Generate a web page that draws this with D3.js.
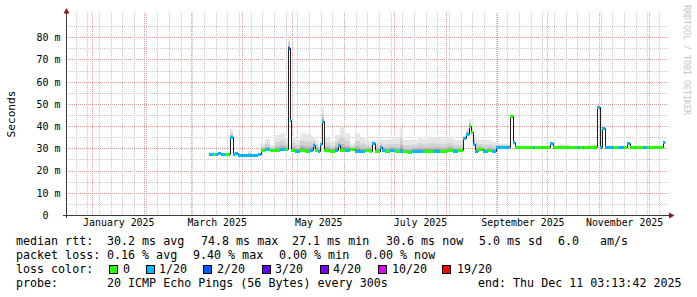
<!DOCTYPE html>
<html><head><meta charset="utf-8">
<script src="https://cdn.jsdelivr.net/npm/d3@7"></script>
<style>html,body{margin:0;padding:0;background:#fff;} svg{display:block}</style>
</head><body><svg id="c" width="697" height="297"></svg>
<script>
// ---- data ----
const times = [
"2025-03-12 02","2025-03-14 08","2025-03-16 03","2025-03-17 08","2025-03-19 03","2025-03-21 13","2025-03-23 22",
"2025-03-24 20","2025-03-26 01","2025-03-27 20","2025-03-29 01","2025-04-04 01","2025-04-06 03","2025-04-10 08",
"2025-04-12 03","2025-04-14 13","2025-04-17 13","2025-04-20 13","2025-04-23 13","2025-04-26 13","2025-04-28 01",
"2025-04-29 13","2025-04-30 10","2025-05-02 13","2025-05-05 13","2025-05-08 13","2025-05-11 13","2025-05-13 08",
"2025-05-14 13","2025-05-16 08","2025-05-17 13","2025-05-18 13","2025-05-20 03","2025-05-23 13","2025-05-26 13",
"2025-05-28 08","2025-05-29 13","2025-06-01 13","2025-06-04 13","2025-06-07 13","2025-06-10 13","2025-06-13 13",
"2025-06-16 13","2025-06-17 18","2025-06-19 13","2025-06-22 13","2025-06-23 18","2025-06-25 13","2025-06-28 13",
"2025-07-01 13","2025-07-04 13","2025-07-06 08","2025-07-09 08","2025-07-11 18","2025-07-15 08","2025-07-18 08",
"2025-07-21 08","2025-07-24 08","2025-07-28 13","2025-08-01 18","2025-08-05 08","2025-08-08 08","2025-08-11 12",
"2025-08-13 10","2025-08-14 22","2025-08-16 03","2025-08-17 08","2025-08-18 20","2025-08-20 08","2025-08-23 08",
"2025-08-26 08","2025-08-28 18","2025-08-31 10","2025-09-08 13","2025-09-10 04","2025-09-11 06","2025-09-22 04",
"2025-09-23 06","2025-10-02 20","2025-10-04 01","2025-10-07 08","2025-10-14 13","2025-10-19 12","2025-10-20 13",
"2025-10-22 04","2025-10-23 03","2025-10-25 08","2025-10-30 22","2025-11-01 13","2025-11-02 13","2025-11-04 13",
"2025-11-09 22","2025-11-12 08","2025-11-15 22","2025-11-17 22","2025-11-19 06","2025-11-27 08","2025-11-29 18",
"2025-12-09 04"];
const dataEnd = "2025-12-10 20";
const median = [
27.3,27.3,27.3,27.7,27.3,27.3,27.3,
35.1,27.5,28.1,27.0,27.0,27.0,27.6,
29.3,29.5,29.3,29.2,29.5,29.6,75.0,
42.7,29.3,29.0,29.4,28.8,29.2,31.5,
29.4,29.0,32.0,42.2,29.3,29.0,29.4,
31.5,29.4,29.2,29.5,29.0,28.7,29.2,
29.0,32.2,29.0,30.6,29.3,29.0,29.3,
28.8,29.0,28.6,28.5,29.0,28.8,29.0,
28.8,29.0,28.8,29.2,29.0,29.2,34.5,
36.5,40.0,37.2,31.8,29.0,29.5,28.8,
29.3,28.8,30.7,44.6,33.0,30.7,30.7,
30.7,32.2,30.7,30.7,30.7,30.7,30.7,
30.7,30.7,30.7,48.7,30.7,39.3,30.7,
30.7,30.7,30.7,32.2,30.7,30.7,30.7,
32.7];
const loss = [
1,0,1,1,1,0,1,
1,1,1,1,1,1,1,
0,1,0,0,1,0,2,
1,0,1,0,0,1,1,
0,1,1,1,0,0,1,
1,0,1,0,1,1,0,
0,1,0,1,1,0,1,
0,1,0,0,1,1,0,
0,1,0,0,1,0,1,
1,0,0,1,1,0,1,
0,1,1,0,1,0,1,
0,1,0,0,0,1,0,
1,0,0,1,1,1,1,
0,1,0,1,0,1,0,
1];
const smokeTop = [
27.6,27.6,27.6,28.0,27.6,27.6,27.6,
38.7,27.8,28.4,27.2,28.8,27.2,27.9,
32.2,34.2,31.5,36.0,36.7,34.5,80.5,
43.5,35.2,33.7,36.7,36.7,36.0,35.0,
34.0,31.7,33.0,48.3,35.2,33.0,36.0,
36.0,39.5,36.8,32.2,36.7,35.0,33.7,
33.0,33.5,33.5,34.0,33.7,34.0,34.2,
34.5,39.0,33.7,33.7,33.7,35.2,34.0,
35.2,34.8,34.3,35.2,33.7,33.7,36.0,
39.0,43.5,40.0,36.0,35.2,34.0,34.0,
33.7,33.0,32.2,45.0,33.5,31.0,31.0,
31.0,32.4,31.0,31.8,30.9,31.0,30.9,
31.0,30.9,31.7,49.2,31.0,39.6,31.0,
31.0,31.0,31.0,32.5,31.0,31.0,31.0,
33.0];

const yTicks = [0,10,20,30,40,50,60,70,80];
const lossLabels = ["0","1/20","2/20","3/20","4/20","10/20","19/20"];
const lossColors = ["#26ff00","#00b8ff","#0059ff","#5e00ff","#7e00ff","#dd00ff","#ff0000"];
const rttStats = ["30.2 ms avg","74.8 ms max","27.1 ms min","30.6 ms now","5.0 ms sd","6.0","am/s"];
const lossStats = ["0.16 % avg","9.40 % max","0.00 % min","0.00 % now"];
const probeText = "20 ICMP Echo Pings (56 Bytes) every 300s";
const endText = "end: Thu Dec 11 03:13:42 2025";

// ---- layout ----
const svg = d3.select("#c");
const mono = "'DejaVu Sans Mono', monospace";
const parse = d3.timeParse("%Y-%m-%d %H");
const parseFull = d3.timeParse("%Y-%m-%d %H:%M:%S");
const tStart = parseFull("2024-12-16 03:13:42"), tEnd = parseFull("2025-12-11 03:13:42");
const x = d3.scaleTime().domain([tStart, tEnd]).range([66, 666]);
const y = d3.scaleLinear().domain([0, 90]).range([215, 15]);
const px = v => Math.round(v) + 0.5;

const grid = svg.append("g");
d3.range(5, 90, 5).forEach(v => {
  grid.append("line").attr("x1", 66).attr("x2", 668).attr("y1", px(y(v))).attr("y2", px(y(v)))
    .attr("stroke", v % 10 === 0 ? "#e79a9a" : "#c9c9c9").attr("stroke-dasharray", "1,1");
});
d3.timeSunday.range(tStart, tEnd).forEach(d => {
  grid.append("line").attr("x1", px(x(d))).attr("x2", px(x(d))).attr("y1", 13).attr("y2", 215)
    .attr("stroke", "#c9c9c9").attr("stroke-dasharray", "1,1");
});
const months = d3.timeMonth.range(tStart, tEnd);
months.forEach(d => {
  grid.append("line").attr("x1", px(x(d))).attr("x2", px(x(d))).attr("y1", 13).attr("y2", 215)
    .attr("stroke", "#e79a9a").attr("stroke-dasharray", "1,1");
});

// ---- smoke ----
const tms = times.map(parse);
const tNext = tms.slice(1).concat([parse(dataEnd)]);
const smoke = svg.append("g");
const shades = [[1.0, "#e6e6e6"], [0.55, "#d2d2d2"], [0.25, "#b8b8b8"], [0.1, "#8e8e8e"]];
shades.forEach(([f, col]) => {
  tms.forEach((t, i) => {
    const top = median[i] + (smokeTop[i] - median[i]) * f;
    const x0 = Math.round(x(t)), x1 = Math.round(x(tNext[i]));
    const y0 = y(top), y1 = y(median[i]);
    if (y1 - y0 < 0.3) return;
    smoke.append("rect").attr("x", x0).attr("width", Math.max(1, x1 - x0))
      .attr("y", y0).attr("height", y1 - y0).attr("fill", col);
  });
});

// ---- median dark line ----
const pts = tms.map((t, i) => [t, median[i]]).concat([[parse(dataEnd), median[median.length - 1]]]);
svg.append("path").attr("d", d3.line().x(d => Math.round(x(d[0])) + 0.5).y(d => Math.round(y(d[1])) + 0.5).curve(d3.curveStepAfter)(pts))
  .attr("fill", "none").attr("stroke", "#202020").attr("stroke-width", 1);

// ---- coloured median by loss ----
const lossIndex = l => l <= 0 ? 0 : l === 1 ? 1 : l === 2 ? 2 : l === 3 ? 3 : l <= 9 ? 4 : l <= 18 ? 5 : 6;
tms.forEach((t, i) => {
  const x0 = Math.round(x(t)), x1 = Math.round(x(tNext[i]));
  svg.append("rect").attr("x", x0).attr("width", Math.max(1, x1 - x0))
    .attr("y", Math.round(y(median[i])) - 1).attr("height", 3).attr("fill", lossColors[lossIndex(loss[i])]);
});

// ---- axes ----
svg.append("line").attr("x1", 66.5).attr("x2", 66.5).attr("y1", 12).attr("y2", 218).attr("stroke", "#3a3a3a");
svg.append("line").attr("x1", 63).attr("x2", 670).attr("y1", 215.5).attr("y2", 215.5).attr("stroke", "#3a3a3a");
svg.append("path").attr("d", "M66.5,8 L63.5,13.5 L69.5,13.5 Z").attr("fill", "#8b1a1a");
svg.append("path").attr("d", "M674.5,215.5 L669,212.5 L669,218.5 Z").attr("fill", "#8b1a1a");

const yAxis = d3.axisLeft(y).tickValues(yTicks).tickSize(0).tickPadding(0)
  .tickFormat(v => v === 0 ? "0  " : v + " m");
const gy = svg.append("g").attr("transform", "translate(60.5,0)").call(yAxis);
gy.select(".domain").remove();
gy.selectAll("text").attr("font-family", mono).attr("font-size", 10).attr("fill", "#000")
  .attr("dy", "0.34em").style("white-space", "pre").attr("xml:space", "preserve");

const labelMonths = months.filter(m => m.getMonth() % 2 === 0);
const mids = labelMonths.map(m => new Date((+m + +d3.timeMonth.offset(m, 1)) / 2));
const xAxis = d3.axisBottom(x).tickValues(mids).tickSize(0).tickPadding(0).tickFormat(d3.timeFormat("%B %Y"));
const gx = svg.append("g").attr("transform", "translate(0,219)").call(xAxis);
gx.select(".domain").remove();
gx.selectAll("text").attr("font-family", mono).attr("font-size", 9.9).attr("fill", "#000").attr("dy", "0.71em");

svg.append("text").attr("transform", "translate(15,114) rotate(-90)").attr("text-anchor", "middle")
  .attr("font-family", mono).attr("font-size", 11.2).attr("fill", "#000").text("Seconds");

svg.append("text").attr("transform", "translate(684,5) rotate(90)")
  .attr("font-family", mono).attr("font-size", 8.3).attr("fill", "#c4c4c4").text("RRDTOOL / TOBI OETIKER");

// ---- legend ----
const lg = svg.append("g").attr("font-family", mono).attr("font-size", 11.66).attr("fill", "#000");
const rows = [245, 259, 273, 287];
const txt = (xp, yp, s) => lg.append("text").attr("x", xp).attr("y", yp).attr("xml:space", "preserve").text(s);
txt(16, rows[0], "median rtt:");
[107, 201, 292, 386, 479, 558, 600].forEach((xp, i) => txt(xp, rows[0], rttStats[i]));
txt(16, rows[1], "packet loss:");
[107, 193, 279, 365].forEach((xp, i) => txt(xp, rows[1], lossStats[i]));
txt(16, rows[2], "loss color:");
const swX = [109, 146, 203, 262, 320, 378, 442], swT = [123, 159, 217, 275, 333, 392, 457];
lossLabels.forEach((l, i) => {
  lg.append("rect").attr("x", swX[i] + 0.5).attr("y", 265.5).attr("width", 8).attr("height", 8)
    .attr("fill", lossColors[i]).attr("stroke", "#000").attr("stroke-width", 1);
  txt(swT[i], rows[2], l);
});
txt(16, rows[3], "probe:");
txt(107, rows[3], probeText);
txt(478, rows[3], endText);
</script>
</body></html>
